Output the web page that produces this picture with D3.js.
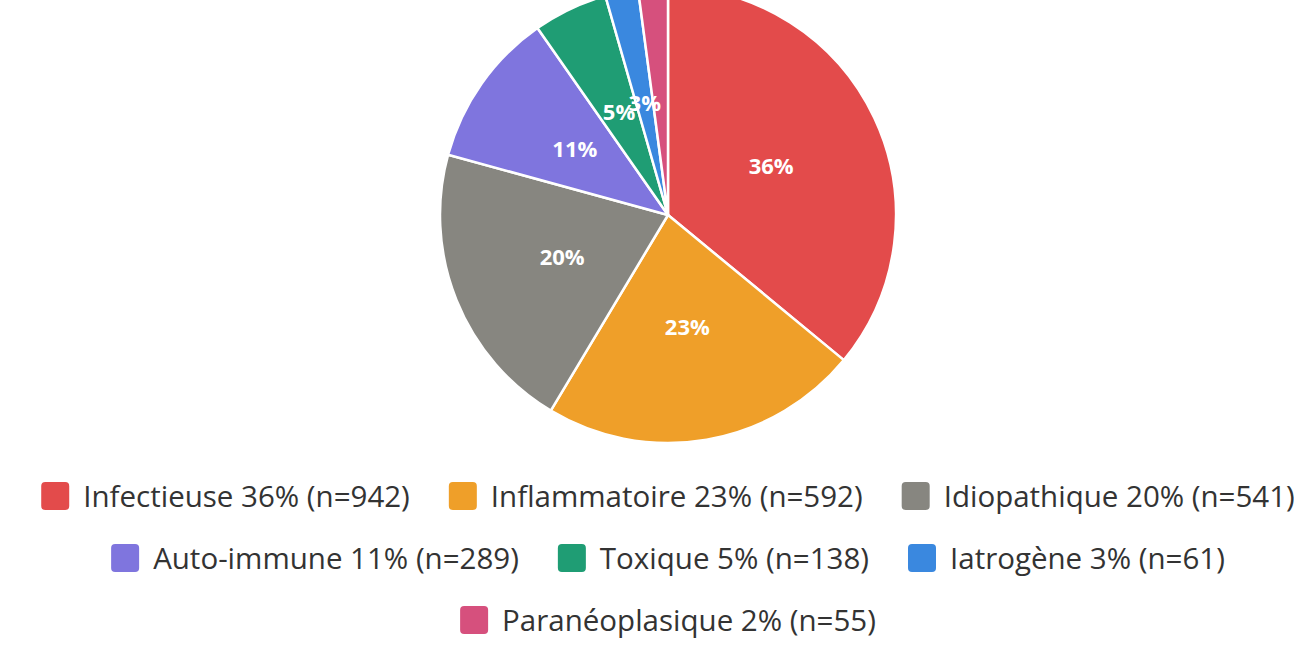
<!DOCTYPE html>
<html>
<head>
<meta charset="utf-8">
<script src="https://cdn.jsdelivr.net/npm/d3@7"></script>
<style>
  body { margin: 0; background: #fff; overflow: hidden; }
  svg { display: block; }
</style>
</head>
<body>
<div id="chart"></div>
<script>
// causes and counts
const categories = ["Infectieuse", "Inflammatoire", "Idiopathique", "Auto-immune", "Toxique", "Iatrogène", "Paranéoplasique"];
const counts = [942, 592, 541, 289, 138, 61, 55];
const percents = [36, 23, 20, 11, 5, 3, 2];
const colors = ["#E34B4B", "#EF9F29", "#878680", "#7F75DE", "#1F9D74", "#3A88DF", "#D6507D"];

const width = 1294, height = 660;
const cx = 668, cy = 215, radius = 228;

const svg = d3.select("#chart").append("svg")
    .attr("width", width)
    .attr("height", height);

const data = categories.map((c, i) => ({name: c, value: counts[i], pct: percents[i], color: colors[i]}));

const pie = d3.pie()
    .value(d => d.value)
    .sort(null);

const arc = d3.arc()
    .innerRadius(0)
    .outerRadius(radius);

const g = svg.append("g")
    .attr("transform", `translate(${cx},${cy})`);

const arcs = pie(data);

g.selectAll("path")
  .data(arcs)
  .enter()
  .append("path")
    .attr("d", arc)
    .attr("fill", d => d.data.color)
    .attr("stroke", "#fff")
    .attr("stroke-width", 2.5)
    .attr("stroke-linejoin", "round");

// percent labels inside slices (the smallest one has none)
g.selectAll("text")
  .data(arcs.filter(d => d.data.pct >= 3))
  .enter()
  .append("text")
    .attr("transform", d => `translate(${arc.centroid(d)})`)
    .attr("text-anchor", "middle")
    .attr("dy", "0.36em")
    .style("font-family", "'Open Sans', sans-serif")
    .style("font-weight", "bold")
    .style("font-size", "22px")
    .style("fill", "#fff")
    .text(d => d.data.pct + "%");

// legend, wrapped in centered rows
const swatch = 28, swGap = 14, itemGap = 39, rowH = 62, maxRow = 1340;
const legend = svg.append("g");

const items = data.map(d => {
    const it = legend.append("g");
    it.append("rect")
        .attr("width", swatch)
        .attr("height", swatch)
        .attr("rx", 4)
        .attr("fill", d.color);
    const t = it.append("text")
        .attr("x", swatch + swGap)
        .attr("y", swatch / 2)
        .attr("dy", "0.36em")
        .style("font-family", "'Open Sans', sans-serif")
        .style("font-size", "29.5px")
        .style("fill", "#333")
        .text(`${d.name} ${d.pct}% (n=${d.value})`);
    return {node: it, w: swatch + swGap + t.node().getComputedTextLength()};
});

let rows = [[]], rowW = [0];
items.forEach(it => {
    let r = rows.length - 1;
    let add = (rows[r].length ? itemGap : 0) + it.w;
    if (rows[r].length && rowW[r] + add > maxRow) {
        rows.push([]); rowW.push(0); r++;
        add = it.w;
    }
    rows[r].push(it);
    rowW[r] += add;
});

rows.forEach((row, r) => {
    let x = cx - rowW[r] / 2;
    row.forEach(it => {
        it.node.attr("transform", `translate(${x},${482 + r * rowH})`);
        x += it.w + itemGap;
    });
});
</script>
</body>
</html>
